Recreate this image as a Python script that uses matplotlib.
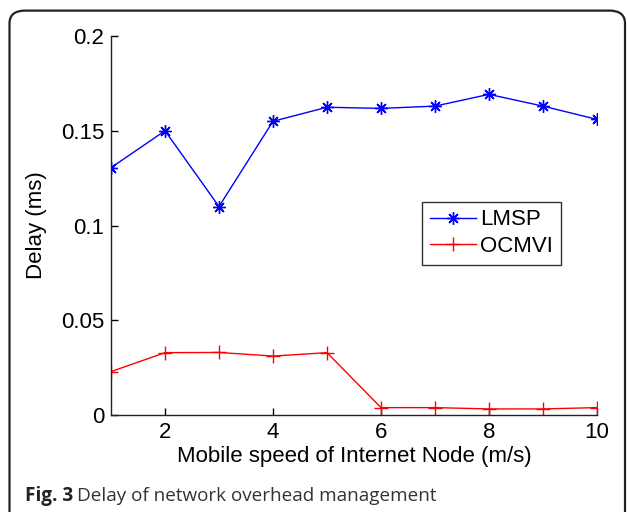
import matplotlib
matplotlib.use("Agg")
import matplotlib.pyplot as plt
from matplotlib.patches import FancyBboxPatch

speed = [1, 2, 3, 4, 5, 6, 7, 8, 9, 10]
lmsp = [0.1305, 0.150, 0.110, 0.155, 0.1624, 0.1618, 0.163, 0.1692, 0.163, 0.156]
ocmvi = [0.0229, 0.0329, 0.0330, 0.0311, 0.0329, 0.0039, 0.0039, 0.0032, 0.0032, 0.0039]
xticks = [2, 4, 6, 8, 10]
yticks = [0, 0.05, 0.1, 0.15, 0.2]
ytick_labels = ["0", "0.05", "0.1", "0.15", "0.2"]

W, H = 627, 512
fig = plt.figure(figsize=(W / 100, H / 100), dpi=100)
fig.patch.set_facecolor("white")

# rounded border of the figure panel
border = FancyBboxPatch((9.5 / W, -0.05), (625 - 9.5) / W, (512 - 10 + 25) / H,
                        boxstyle="round,pad=0,rounding_size=0.025",
                        transform=fig.transFigure, fill=False,
                        edgecolor="#222222", linewidth=1.6, clip_on=False)
fig.patches.append(border)

ax = fig.add_axes([111 / W, (H - 415) / H, (597 - 111) / W, (415 - 36) / H])
ax.plot(speed, lmsp, color="blue", marker=(8, 2, 0), markersize=9, markeredgewidth=1.0,
        linewidth=1.0, label="LMSP")
ax.plot(speed, ocmvi, color="red", marker="+", markersize=10, markeredgewidth=1.0,
        linewidth=1.0, label="OCMVI")

ax.set_xlim(1, 10)
ax.set_ylim(0, 0.2)
ax.set_xticks(xticks)
ax.set_yticks(yticks)
ax.set_yticklabels(ytick_labels)
ax.spines["top"].set_visible(False)
ax.spines["right"].set_visible(False)
for s in ("left", "bottom"):
    ax.spines[s].set_linewidth(1.0)
    ax.spines[s].set_color("#222222")
ax.tick_params(direction="in", length=5, width=1.0, labelsize=16, colors="black",
               labelfontfamily="Liberation Sans")
ax.tick_params(axis="x", pad=5)
ax.tick_params(axis="y", pad=5)

ax.set_xlabel("Mobile speed of Internet Node (m/s)", fontsize=16,
              family="Liberation Sans", labelpad=2)
ax.set_ylabel("Delay (ms)", fontsize=16, family="Liberation Sans", labelpad=10)

leg = ax.legend(loc="upper left", bbox_to_anchor=(0.64, 0.563), fancybox=False,
                framealpha=1, edgecolor="#333333", prop={"family": "Liberation Sans", "size": 16},
                handlelength=2.07, handletextpad=0.2, borderpad=0.35, labelspacing=0.25,
                borderaxespad=0)
leg.get_frame().set_linewidth(1.0)

cap_y = 1 - 496 / H
t1 = fig.text(25 / W, cap_y, "Fig. 3", fontsize=13.6, va="center", ha="left",
              family="Open Sans", fontweight="bold", color="#222222")
fig.canvas.draw()
bb = t1.get_window_extent(renderer=fig.canvas.get_renderer())
fig.text((bb.x1 + 4) / W, cap_y, "Delay of network overhead management", fontsize=13.6,
         va="center", ha="left", family="Open Sans", color="#333333")
fig.savefig("out.png", dpi=100)
